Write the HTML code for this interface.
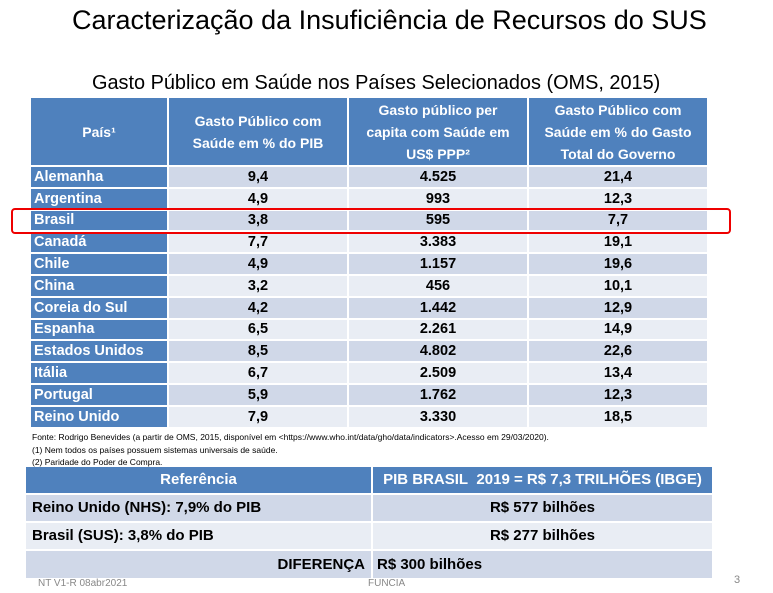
<!DOCTYPE html>
<html><head><meta charset="utf-8"><style>
body{margin:0;width:773px;height:593px;background:#fff;font-family:"Liberation Sans",sans-serif;position:relative;overflow:hidden}
.abs{position:absolute}
table{border-collapse:collapse;position:absolute}
td{padding:0;border:2px solid #fff;font-weight:bold;font-size:14.5px;color:#000;text-align:center}
.hd{background:#4f81bd;color:#fff;font-size:14px;line-height:22px}
.c{background:#4f81bd;color:#fff;text-align:left;padding-left:3px}
.r1 td.v{background:#d0d8e8}.r2 td.v{background:#e9edf4}
</style></head><body>
<div class="abs" style="left:72px;top:5px;font-size:27px;color:#000">Caracterização da Insuficiência de Recursos do SUS</div>
<div class="abs" style="left:92px;top:72px;font-size:19.9px;color:#000">Gasto Público em Saúde nos Países Selecionados (OMS, 2015)</div>
<table style="left:29px;top:96px;width:680px">
<tr style="height:69px"><td class="hd" style="width:136px">País¹</td><td class="hd" style="width:178px">Gasto Público com<br>Saúde em % do PIB</td><td class="hd" style="width:178px">Gasto público per<br>capita com Saúde em<br>US$ PPP²</td><td class="hd">Gasto Público com<br>Saúde em % do Gasto<br>Total do Governo</td></tr>
<tbody id="rows"></tbody></table>
<div class="abs" style="left:11px;top:208px;width:716px;height:22px;border:2.5px solid #e00;border-radius:4px"></div>
<div class="abs" style="left:32px;top:431px;font-size:8.5px;line-height:12.5px;color:#000">Fonte: Rodrigo Benevides (a partir de OMS, 2015, disponível em &lt;https://www.who.int/data/gho/data/indicators&gt;.Acesso em 29/03/2020).<br>(1) Nem todos os países possuem sistemas universais de saúde.<br>(2) Paridade do Poder de Compra.</div>
<div class="abs" style="left:26px;top:467px;width:686px;font-size:15px;font-weight:bold">
<div style="display:flex;height:26px;background:#4f81bd;color:#fff;line-height:26px;border-bottom:2px solid #fff"><div style="width:345px;text-align:center;border-right:2px solid #fff">Referência</div><div style="flex:1;text-align:center">PIB BRASIL&nbsp; 2019 = R$ 7,3 TRILHÕES (IBGE)</div></div>
<div style="display:flex;height:26px;background:#d0d8e8;line-height:26px;border-bottom:2px solid #fff"><div style="width:339px;padding-left:6px;border-right:2px solid #fff">Reino Unido (NHS): 7,9% do PIB</div><div style="flex:1;text-align:center">R$ 577 bilhões</div></div>
<div style="display:flex;height:26px;background:#e9edf4;line-height:26px;border-bottom:2px solid #fff"><div style="width:339px;padding-left:6px;border-right:2px solid #fff">Brasil (SUS): 3,8% do PIB</div><div style="flex:1;text-align:center">R$ 277 bilhões</div></div>
<div style="display:flex;height:27px;background:#d0d8e8;line-height:27px"><div style="width:339px;padding-right:6px;text-align:right;border-right:2px solid #fff">DIFERENÇA</div><div style="flex:1;padding-left:4px">R$ 300 bilhões</div></div>
</div>
<div class="abs" style="left:38px;top:578px;font-size:10px;color:#888">NT V1-R 08abr2021</div>
<div class="abs" style="left:368px;top:578px;font-size:10px;color:#888">FUNCIA</div>
<div class="abs" style="left:734px;top:574px;font-size:11px;color:#888">3</div>
<script>
const countries=["Alemanha","Argentina","Brasil","Canadá","Chile","China","Coreia do Sul","Espanha","Estados Unidos","Itália","Portugal","Reino Unido"];
const pib=["9,4","4,9","3,8","7,7","4,9","3,2","4,2","6,5","8,5","6,7","5,9","7,9"];
const perCapita=["4.525","993","595","3.383","1.157","456","1.442","2.261","4.802","2.509","1.762","3.330"];
const gov=["21,4","12,3","7,7","19,1","19,6","10,1","12,9","14,9","22,6","13,4","12,3","18,5"];
const tb=document.getElementById('rows');
countries.forEach((c,i)=>{
 const tr=document.createElement('tr');
 tr.className=i%2?'r2':'r1';tr.style.height='21.8px';
 
 
 [[c,'c'],[pib[i],'v'],[perCapita[i],'v'],[gov[i],'v']].forEach(([t,k])=>{
  const td=document.createElement('td');td.className=k;td.textContent=t;
  
  
  tr.appendChild(td);});
 tb.appendChild(tr);});
</script>
</body></html>
